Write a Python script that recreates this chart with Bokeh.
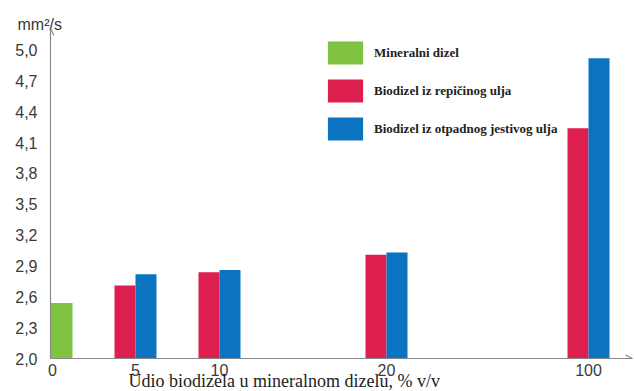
from bokeh.plotting import figure
from bokeh.models import (Range1d, FixedTicker, Legend, LegendItem, Title, Arrow, OpenHead)
from bokeh.embed import file_html
from bokeh.resources import INLINE

# ---- data ----
categories = ["0", "5", "10", "20", "100"]
series_names = ["Mineralni dizel", "Biodizel iz repičinog ulja", "Biodizel iz otpadnog jestivog ulja"]
mineral = [2.54]                          # at 0 %
rapeseed = [2.71, 2.84, 3.01, 4.24]       # at 5, 10, 20, 100 %
waste_oil = [2.82, 2.86, 3.03, 4.92]      # at 5, 10, 20, 100 %
y_ticks = [2.0, 2.3, 2.6, 2.9, 3.2, 3.5, 3.8, 4.1, 4.4, 4.7, 5.0]
y_tick_labels = ["2,0", "2,3", "2,6", "2,9", "3,2", "3,5", "3,8", "4,1", "4,4", "4,7", "5,0"]
y_unit = "mm²/s"
x_title = "Udio biodizela u mineralnom dizelu, % v/v"

# ---- layout (positions of category slots along the x axis) ----
slot_pos = [2, 85, 169, 336, 538]
bar_w = 21
x_max = 582
y_min, y_max = 2.0, 5.21

GREEN = "#80c241"
RED = "#dc1f4e"
BLUE = "#0b74c0"
AXIS = "#8a8a8a"
TXT = "#3a3a3a"

p = figure(width=634, height=391, output_backend="svg", toolbar_location=None,
           x_range=Range1d(0, x_max), y_range=Range1d(y_min, y_max),
           min_border_left=50, min_border_right=2, min_border_top=28, min_border_bottom=33)
p.outline_line_color = None
p.xgrid.visible = False
p.ygrid.visible = False

# bars
g = p.vbar(x=[slot_pos[0] + 9], top=mineral, bottom=y_min, width=bar_w + 1,
           fill_color=GREEN, line_color=None)
group_pos = slot_pos[1:]
r = p.vbar(x=[c - bar_w / 2 for c in group_pos], top=rapeseed, bottom=y_min, width=bar_w,
           fill_color=RED, line_color=None)
b = p.vbar(x=[c + bar_w / 2 for c in group_pos], top=waste_oil, bottom=y_min, width=bar_w,
           fill_color=BLUE, line_color=None)

# axes
for ax in (p.xaxis[0], p.yaxis[0]):
    ax.axis_line_color = AXIS
    ax.axis_line_width = 1.2
    ax.major_tick_line_color = None
    ax.minor_tick_line_color = None
    ax.major_label_text_font = "Liberation Sans"
    ax.major_label_text_font_size = "16px"
    ax.major_label_text_color = TXT

p.yaxis[0].ticker = FixedTicker(ticks=y_ticks)
p.yaxis[0].major_label_overrides = {t: l for t, l in zip(y_ticks, y_tick_labels)}
p.yaxis[0].major_label_standoff = 7

p.xaxis[0].ticker = FixedTicker(ticks=slot_pos)
p.xaxis[0].major_label_overrides = {t: l for t, l in zip(slot_pos, categories)}
p.xaxis[0].major_label_standoff = -1

# axis arrows
p.add_layout(Arrow(end=OpenHead(size=7, line_color=AXIS, line_width=1.2),
                   x_start=0, y_start=y_max - 0.1, x_end=0, y_end=y_max,
                   line_color=AXIS, line_width=1.2))
p.add_layout(Arrow(end=OpenHead(size=7, line_color=AXIS, line_width=1.2),
                   x_start=x_max - 10, y_start=y_min, x_end=x_max, y_end=y_min,
                   line_color=AXIS, line_width=1.2))

# unit label (top) and x title (bottom)
p.add_layout(Title(text=y_unit, align="left", offset=-33, standoff=-8,
                   text_font="Liberation Sans", text_font_size="16px",
                   text_font_style="normal", text_color=TXT), "above")
p.add_layout(Title(text=x_title, align="left", offset=78, standoff=-16,
                   vertical_align="top",
                   text_font="Liberation Serif", text_font_size="18px",
                   text_font_style="normal", text_color="#222222"), "below")

# legend
legend = Legend(items=[LegendItem(label=series_names[0], renderers=[g]),
                       LegendItem(label=series_names[1], renderers=[r]),
                       LegendItem(label=series_names[2], renderers=[b])],
                location=(273, 215), glyph_width=44, glyph_height=29, spacing=9,
                label_standoff=7, padding=0, margin=0, border_line_color=None,
                background_fill_alpha=0,
                label_text_font="Liberation Serif", label_text_font_style="bold",
                label_text_font_size="13px", label_text_color="#222222")
p.add_layout(legend)

open("out.html", "w").write(file_html(p, INLINE))
